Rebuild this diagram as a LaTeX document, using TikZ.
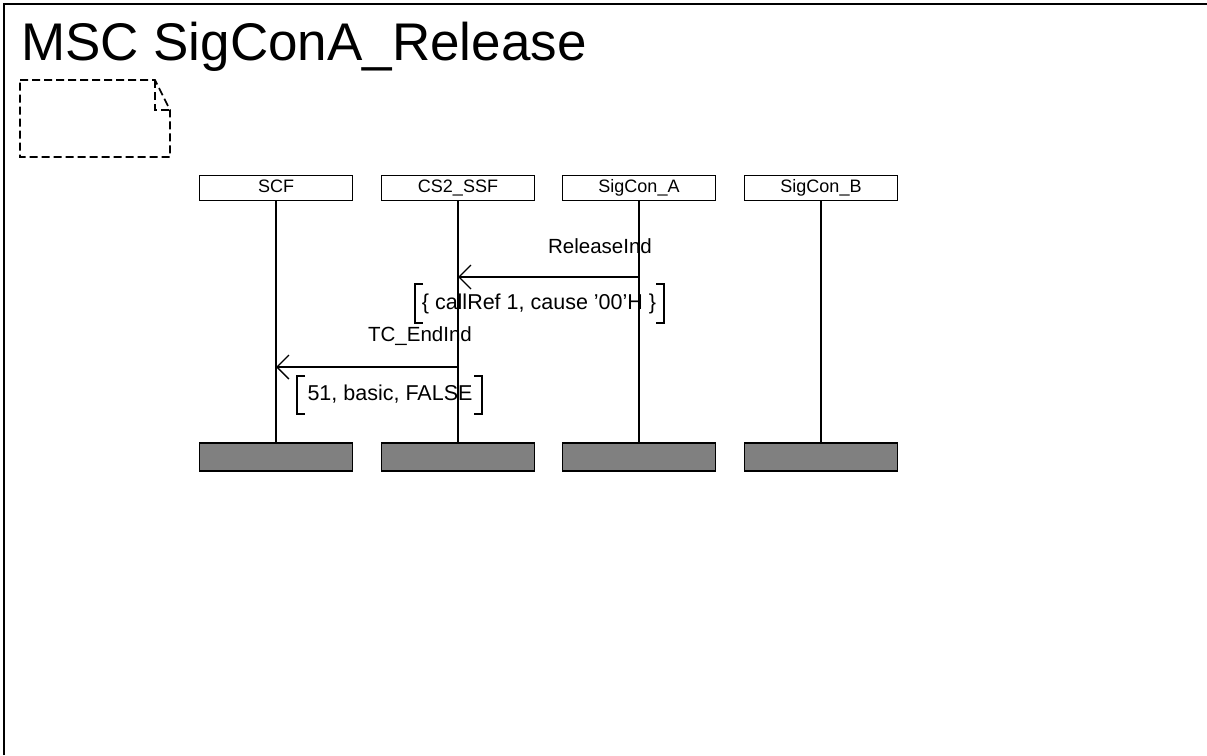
\documentclass[tikz,border=0pt]{standalone}
\usepackage{fontspec}
\setmainfont{Liberation Sans}
\usetikzlibrary{arrows.meta}
\tikzset{
  headbox/.style={draw, line width=1.5pt, minimum width=153pt, minimum height=25pt, inner sep=0pt, text height=13pt, text depth=4pt, font=\fontsize{18}{20}\selectfont},
  endbox/.style={draw, line width=1.5pt, fill=black!50, minimum width=153pt, minimum height=28pt, inner sep=0pt},
  life/.style={line width=1.4pt},
  msg/.style={line width=1.6pt, -{Straight Barb[length=12pt,width=24pt,line width=1.4pt]}},
  lbl/.style={font=\fontsize{20.5}{22}\selectfont, inner sep=0pt, anchor=base},
  plbl/.style={font=\fontsize{21.5}{23}\selectfont, inner sep=0pt, anchor=base},
  brk/.style={line width=1.4pt},
  notebox/.style={line width=1.6pt, dash pattern=on 8pt off 4pt}
}
\begin{document}
\begin{tikzpicture}[x=1pt,y=-1pt]
\useasboundingbox (0,0) rectangle (1207,755);
% frame
\draw[line width=2pt] (4,755) -- (4,4) -- (1207,4);
\node[anchor=base west, inner sep=0pt, font=\fontsize{53}{60}\selectfont] (title) at (21,60) {MSC SigConA\_Release};
% comment symbol
\draw[notebox] (20,80) -- (155,80) -- (170,110) -- (170,157) -- (20,157) -- cycle;
\draw[notebox] (155,80) -- (155,110) -- (170,110);
% heads
\node[headbox] (scf) at (276,188) {SCF};
\node[headbox] (ssf) at (458,188) {CS2\_SSF};
\node[headbox] (sa) at (639,188) {SigCon\_A};
\node[headbox] (sb) at (821,188) {SigCon\_B};
% ends
\node[endbox] (scfE) at (276,457) {};
\node[endbox] (ssfE) at (458,457) {};
\node[endbox] (saE) at (639,457) {};
\node[endbox] (sbE) at (821,457) {};
% lifelines
\draw[life] (scf.south) -- (scfE.north);
\draw[life] (ssf.south) -- (ssfE.north);
\draw[life] (sa.south) -- (saE.north);
\draw[life] (sb.south) -- (sbE.north);
% message 1
\coordinate (m1s) at (sa.south |- 0,277);
\coordinate (m1e) at (ssf.south |- 0,277);
\draw[msg] (m1s) -- (m1e);
\node[lbl] (l1) at (600,253) {ReleaseInd};
\node[plbl] (p1) at (539,309) {\{ callRef 1, cause ’00’H \}};
\draw[brk] (423,284) -- (415,284) -- (415,323) -- (423,323);
\draw[brk] (656,284) -- (664,284) -- (664,323) -- (656,323);
% message 2
\coordinate (m2s) at (ssf.south |- 0,367);
\coordinate (m2e) at (scf.south |- 0,367);
\draw[msg] (m2s) -- (m2e);
\node[lbl] (l2) at (420,341) {TC\_EndInd};
\node[plbl] (p2) at (390,400) {51, basic, FALSE};
\draw[brk] (305,376) -- (297,376) -- (297,414) -- (305,414);
\draw[brk] (474,376) -- (482,376) -- (482,414) -- (474,414);
\end{tikzpicture}
\end{document}
